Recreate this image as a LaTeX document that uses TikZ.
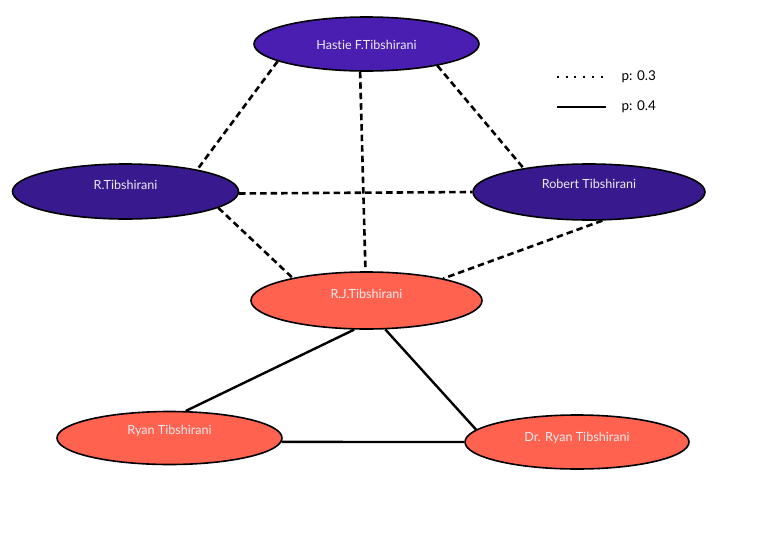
\documentclass[tikz,border=0pt]{standalone}
\usepackage{fontspec}
\setmainfont{Lato}[Ligatures=NoCommon]
\usetikzlibrary{shapes.geometric}

\definecolor{hastiefill}{RGB}{74,30,176}
\definecolor{deeppurple}{RGB}{56,26,142}
\definecolor{coral}{RGB}{255,99,80}
\definecolor{labeltext}{RGB}{236,234,240}

\tikzset{
  person/.style={ellipse, draw=black, line width=1.6pt, inner sep=0pt},
  hastiebox/.style={person, minimum width=225pt, minimum height=54pt, fill=hastiefill},
  purplebox/.style={person, minimum width=226pt, minimum height=55pt, fill=deeppurple},
  coralbox/.style={person, minimum width=226pt, minimum height=54pt, fill=coral},
  namelabel/.style={text=labeltext, font=\fontsize{12.6}{14}\selectfont},
  weaklink/.style={line width=2.6pt, dash pattern=on 6.5pt off 4pt},
  stronglink/.style={line width=2.4pt},
  dottedkey/.style={line width=2.4pt, dash pattern=on 2pt off 6.7pt},
  keytext/.style={anchor=west, font=\fontsize{13.5}{15}\selectfont}
}

\begin{document}
\begin{tikzpicture}[x=1pt, y=-1pt]
  \useasboundingbox (0,0) rectangle (782,536);

  % people
  \node[hastiebox] (hastie) at (366.5,44) {};
  \node[purplebox] (rtib) at (125.5,191.5) {};
  \node[purplebox, minimum width=232pt, minimum height=56pt] (robert) at (589,192) {};
  \node[coralbox, minimum width=231pt, minimum height=57pt] (rj) at (366.5,300.5) {};
  \node[coralbox, minimum width=225pt, minimum height=53pt] (ryan) at (169.5,438) {};
  \node[coralbox, minimum width=224pt] (drryan) at (577,442) {};

  % names, set slightly above each centre
  \node[namelabel] (hastiename) at (366.5,45) {Hastie F.Tibshirani};
  \node[namelabel] (rtibname) at (125.5,185) {R.Tibshirani};
  \node[namelabel] (robertname) at (589,184) {Robert Tibshirani};
  \node[namelabel] (rjname) at (366.5,294) {R.J.Tibshirani};
  \node[namelabel] (ryanname) at (169.5,431) {Ryan Tibshirani};
  \node[namelabel] (drryanname) at (577,438) {Dr. Ryan Tibshirani};

  % p = 0.3 links
  \draw[weaklink] (hastie.191.8) -- (rtib.17);
  \draw[weaklink] (hastie.257.4) -- (rj.92.8);
  \draw[weaklink] (hastie.343.7) -- (robert.160.3);
  \draw[weaklink] (rtib.359.2) -- (robert.180.5);
  \draw[weaklink] (rtib.350.4) -- (rj.163.1);
  \draw[weaklink] (robert.295) -- (rj.16.8);

  % p = 0.4 links
  \draw[stronglink] (rj.247.7) -- (ryan.59.7);
  \draw[stronglink] (rj.303.5) -- (drryan.173.1);
  \draw[stronglink] (ryan.358.5) -- (drryan.180.5);

  % key
  \coordinate (k1a) at (557,77);
  \coordinate (k1b) at (606,77);
  \coordinate (k2a) at (557,107);
  \coordinate (k2b) at (606,107);
  \draw[dottedkey] (k1a) -- (k1b);
  \draw[stronglink] (k2a) -- (k2b);
  \node[keytext] (key1) at (618,77) {p: 0.3};
  \node[keytext] (key2) at (618,107) {p: 0.4};
\end{tikzpicture}
\end{document}
